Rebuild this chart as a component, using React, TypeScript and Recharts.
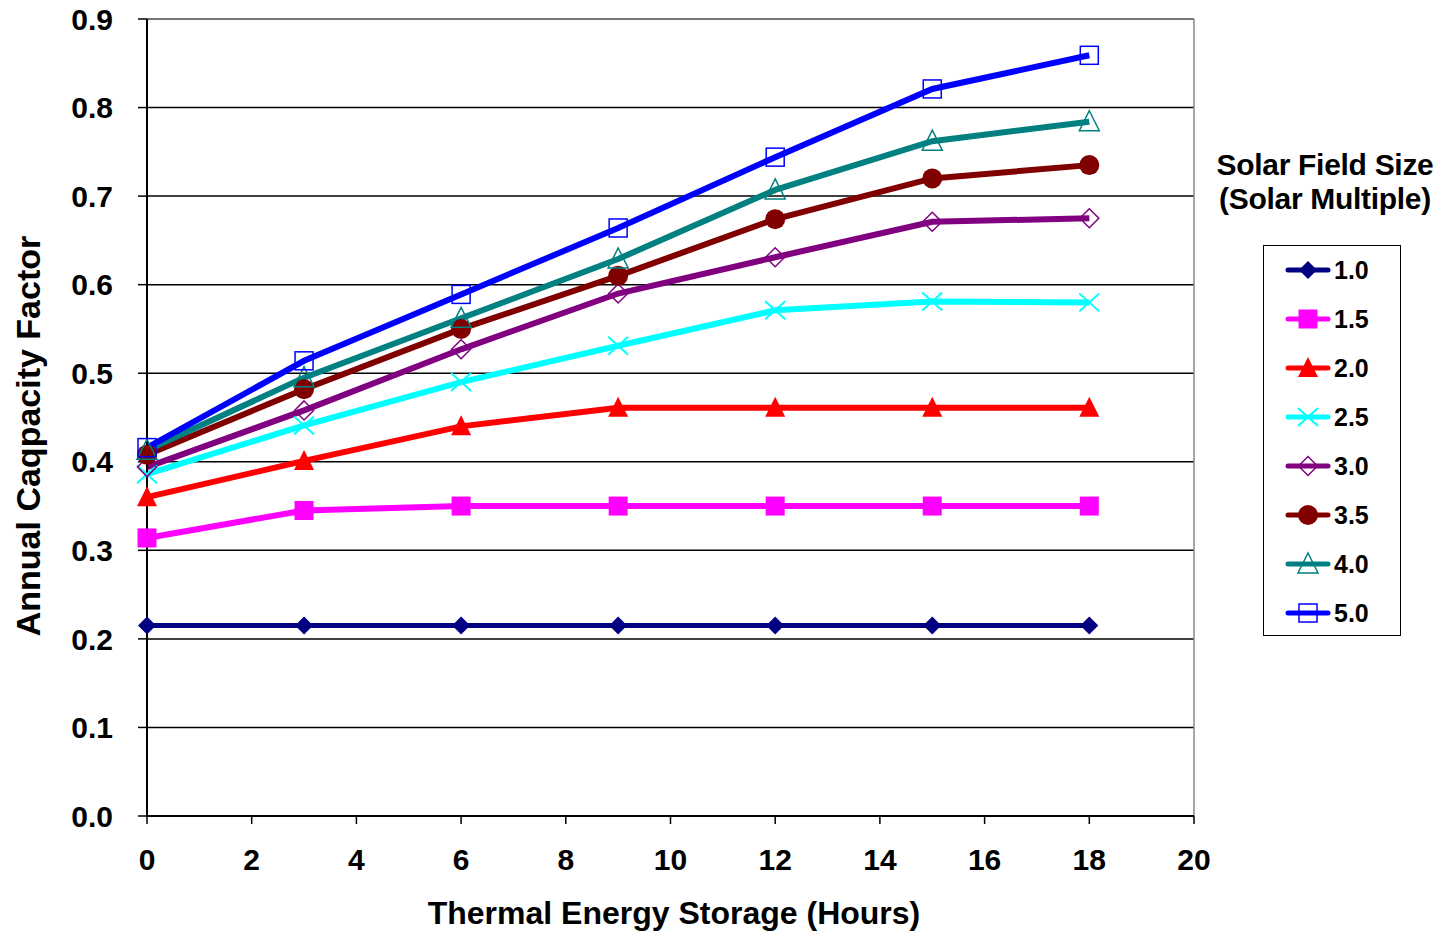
import React from 'react';
import {
  LineChart, Line, XAxis, YAxis, CartesianGrid, ReferenceLine
} from 'recharts';

// Thermal energy storage hours (x values)
const hours = [0, 3, 6, 9, 12, 15, 18];

// Annual capacity factor per solar multiple
const sm10 = [0.215, 0.215, 0.215, 0.215, 0.215, 0.215, 0.215];
const sm15 = [0.314, 0.345, 0.35, 0.35, 0.35, 0.35, 0.35];
const sm20 = [0.36, 0.401, 0.44, 0.461, 0.461, 0.461, 0.461];
const sm25 = [0.386, 0.441, 0.49, 0.531, 0.571, 0.581, 0.58];
const sm30 = [0.394, 0.458, 0.527, 0.59, 0.631, 0.671, 0.675];
const sm35 = [0.408, 0.482, 0.55, 0.61, 0.674, 0.72, 0.735];
const sm40 = [0.413, 0.495, 0.562, 0.629, 0.707, 0.762, 0.784];
const sm50 = [0.416, 0.514, 0.589, 0.664, 0.744, 0.821, 0.859];

const xTicks = [0, 2, 4, 6, 8, 10, 12, 14, 16, 18, 20];
const yTicks = [0, 0.1, 0.2, 0.3, 0.4, 0.5, 0.6, 0.7, 0.8, 0.9];

const FONT = '"Liberation Sans", Arial, sans-serif';

type Shape = 'diamond' | 'square' | 'triangle' | 'x' | 'openDiamond' | 'circle' | 'openTriangle' | 'openSquare';

const series: { key: string; name: string; color: string; shape: Shape; values: number[]; width: number }[] = [
  { key: 'sm10', name: '1.0', color: '#000080', shape: 'diamond', values: sm10, width: 5 },
  { key: 'sm15', name: '1.5', color: '#FF00FF', shape: 'square', values: sm15, width: 6 },
  { key: 'sm20', name: '2.0', color: '#FF0000', shape: 'triangle', values: sm20, width: 6 },
  { key: 'sm25', name: '2.5', color: '#00FFFF', shape: 'x', values: sm25, width: 6 },
  { key: 'sm30', name: '3.0', color: '#800080', shape: 'openDiamond', values: sm30, width: 6 },
  { key: 'sm35', name: '3.5', color: '#800000', shape: 'circle', values: sm35, width: 6 },
  { key: 'sm40', name: '4.0', color: '#008080', shape: 'openTriangle', values: sm40, width: 6 },
  { key: 'sm50', name: '5.0', color: '#0000FF', shape: 'openSquare', values: sm50, width: 6 },
];

const data = hours.map((h, i) => {
  const row: Record<string, number> = { hours: h };
  series.forEach(s => { row[s.key] = s.values[i]; });
  return row;
});

const renderMarker = (shape: Shape, cx: number, cy: number, color: string, k?: string | number) => {
  switch (shape) {
    case 'diamond':
      return <polygon key={k} points={`${cx},${cy - 9} ${cx + 9},${cy} ${cx},${cy + 9} ${cx - 9},${cy}`} fill={color} />;
    case 'square':
      return <rect key={k} x={cx - 9.5} y={cy - 9.5} width={19} height={19} fill={color} />;
    case 'triangle':
      return <polygon key={k} points={`${cx},${cy - 11} ${cx + 10},${cy + 9} ${cx - 10},${cy + 9}`} fill={color} />;
    case 'x':
      return (
        <g key={k} stroke={color} strokeWidth={2}>
          <line x1={cx - 10} y1={cy - 9} x2={cx + 10} y2={cy + 9} />
          <line x1={cx - 10} y1={cy + 9} x2={cx + 10} y2={cy - 9} />
        </g>
      );
    case 'openDiamond':
      return <polygon key={k} points={`${cx},${cy - 9.5} ${cx + 9.5},${cy} ${cx},${cy + 9.5} ${cx - 9.5},${cy}`} fill="none" stroke={color} strokeWidth={1.5} />;
    case 'circle':
      return <circle key={k} cx={cx} cy={cy} r={10} fill={color} />;
    case 'openTriangle':
      return <polygon key={k} points={`${cx},${cy - 11} ${cx + 10},${cy + 9} ${cx - 10},${cy + 9}`} fill="none" stroke={color} strokeWidth={1.5} />;
    case 'openSquare':
      return <rect key={k} x={cx - 9} y={cy - 9} width={18} height={18} fill="none" stroke={color} strokeWidth={1.5} />;
    default:
      return null;
  }
};

const SolarLegend = () => (
  <div style={{ position: 'absolute', left: 1205, top: 148, width: 240, fontFamily: FONT, fontWeight: 'bold' }}>
    <div style={{ textAlign: 'center', fontSize: 30, lineHeight: '34px', letterSpacing: -0.3 }}>
      Solar Field Size<br />(Solar Multiple)
    </div>
    <div style={{
      position: 'absolute', left: 58, top: 97, width: 136, height: 389,
      border: '1.5px solid #000', background: '#fff'
    }}>
      {series.map((s, i) => (
        <div key={s.key} style={{
          position: 'absolute', left: 20, top: 9 + i * 49, height: 30,
          display: 'flex', alignItems: 'center'
        }}>
          <svg width={48} height={30}>
            <line x1={4} y1={15} x2={44} y2={15} stroke={s.color} strokeWidth={5} strokeLinecap="round" />
            {renderMarker(s.shape, 24, 15, s.color)}
          </svg>
          <span style={{ fontSize: 25, marginLeft: 2 }}>{s.name}</span>
        </div>
      ))}
    </div>
  </div>
);

const App: React.FC = () => {
  const tickStyle = { fill: '#000', fontSize: 30, fontWeight: 'bold' as const, fontFamily: FONT };
  return (
    <div style={{ position: 'absolute', left: 0, top: 0, width: 1445, height: 931, background: '#fff' }}>
      <LineChart
        width={1445}
        height={931}
        data={data}
        margin={{ top: 19, right: 251, bottom: 0, left: 0 }}
      >
        <CartesianGrid vertical={false} stroke="#000" strokeWidth={1.5} />
        <ReferenceLine x={20} stroke="#888" strokeWidth={1.5} />
        <ReferenceLine y={0.9} stroke="#888" strokeWidth={1.5} />
        <XAxis
          dataKey="hours"
          type="number"
          domain={[0, 20]}
          ticks={xTicks}
          height={115}
          tickSize={8}
          tickMargin={25}
          axisLine={{ stroke: '#000', strokeWidth: 2 }}
          tickLine={{ stroke: '#000', strokeWidth: 1.5 }}
          tick={tickStyle}
          label={{
            content: () => (
              <text x={674} y={924} textAnchor="middle" fontFamily={FONT} fontWeight="bold" fontSize={32} fill="#000">
                Thermal Energy Storage (Hours)
              </text>
            )
          }}
        />
        <YAxis
          type="number"
          domain={[0, 0.9]}
          ticks={yTicks}
          width={147}
          tickSize={9}
          tickMargin={25}
          interval={0}
          tickFormatter={(v: number) => v.toFixed(1)}
          axisLine={{ stroke: '#000', strokeWidth: 2 }}
          tickLine={{ stroke: '#000', strokeWidth: 1.5 }}
          tick={tickStyle}
          label={{
            content: () => (
              <text x={40} y={436} transform="rotate(-90 40 436)" textAnchor="middle" fontFamily={FONT} fontWeight="bold" fontSize={34} fill="#000">
                Annual Caqpacity Factor
              </text>
            )
          }}
        />
        {series.map(s => (
          <Line
            key={s.key}
            type="linear"
            dataKey={s.key}
            name={s.name}
            stroke={s.color}
            strokeWidth={s.width}
            isAnimationActive={false}
            dot={(p: any) => renderMarker(s.shape, p.cx, p.cy, s.color, `${s.key}-${p.index}`)}
            activeDot={false}
          />
        ))}
      </LineChart>
      <SolarLegend />
    </div>
  );
};

export default App;
